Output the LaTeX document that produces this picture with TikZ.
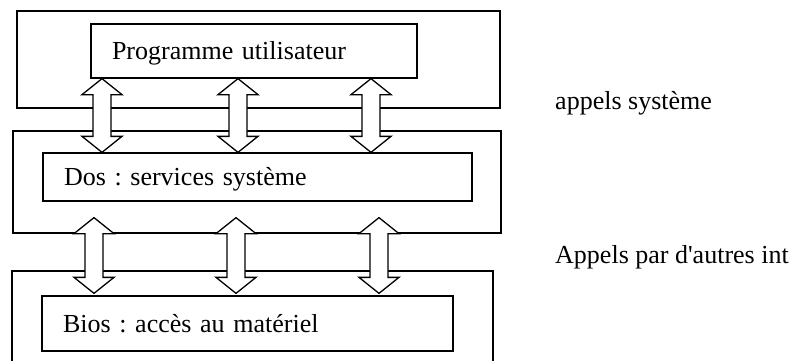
\documentclass[tikz,border=0pt]{standalone}
\usepackage{fontspec}
\setmainfont{Liberation Serif}
\usepackage{tikz}
\usetikzlibrary{calc}
\frenchspacing
\tikzstyle{layer} = [draw, rectangle, line width=1.3pt, inner sep=0pt]
\tikzstyle{block} = [draw, rectangle, line width=1.3pt, inner xsep=21pt, align=left,
  text height=20pt, text depth=3pt]
% double block arrow between two points on the same vertical
\newcommand{\dblarrow}[2]{%
  \filldraw[fill=white, line width=1.3pt, line join=miter] let \p1=(#1), \p2=(#2) in
    (\x1,\y1) -- (\x1+20pt,\y1-16pt) -- (\x1+9pt,\y1-16pt) -- (\x1+9pt,\y2+16pt)
    -- (\x1+20pt,\y2+16pt) -- (\x1,\y2) -- (\x1-20pt,\y2+16pt) -- (\x1-9pt,\y2+16pt)
    -- (\x1-9pt,\y1-16pt) -- (\x1-20pt,\y1-16pt) -- cycle;}

\begin{document}
\begin{tikzpicture}[x=1pt, y=-1pt, font=\fontsize{26pt}{31pt}\selectfont]
    \useasboundingbox (0,0) rectangle (795,361);
    \clip (0,0) rectangle (795,361);

    % layers
    \node[layer, minimum width=483pt, minimum height=97pt] (user) at (258.5,59.5) {};
    \node[layer, minimum width=488pt, minimum height=102pt] (sys) at (257,182) {};
    \node[layer, minimum width=481pt, minimum height=104pt] (hw) at (252.5,323) {};

    % blocks
    \node[block, minimum width=326pt, minimum height=54pt, text width=284pt]
      (prog) at (254,51) {Programme utilisateur};
    \node[block, minimum width=429pt, minimum height=48pt, text width=387pt]
      (dos) at (257.5,177) {Dos : services système};
    \node[block, minimum width=411pt, minimum height=55pt, text width=369pt]
      (bios) at (247.5,323.5) {Bios : accès au matériel};

    % side labels
    \node[anchor=base west, inner sep=0pt] (appsys) at (555,110) {appels système};
    \node[anchor=base west, inner sep=0pt] (appint) at (555,263)
      {Appels par d\textquotesingle autres int};

    % calls prog <-> dos
    \foreach \ax [count=\i] in {102,238,371} {
      \coordinate (pt\i) at (prog.south -| \ax,0);
      \coordinate (pb\i) at (dos.north -| \ax,0);
      \dblarrow{pt\i}{pb\i}
    }
    % calls dos <-> bios
    \foreach \ax [count=\i] in {94,236,379} {
      \coordinate (dt\i) at ([yshift=-16pt]dos.south -| \ax,0);
      \coordinate (db\i) at ([yshift=2pt]bios.north -| \ax,0);
      \dblarrow{dt\i}{db\i}
    }
\end{tikzpicture}
\end{document}
